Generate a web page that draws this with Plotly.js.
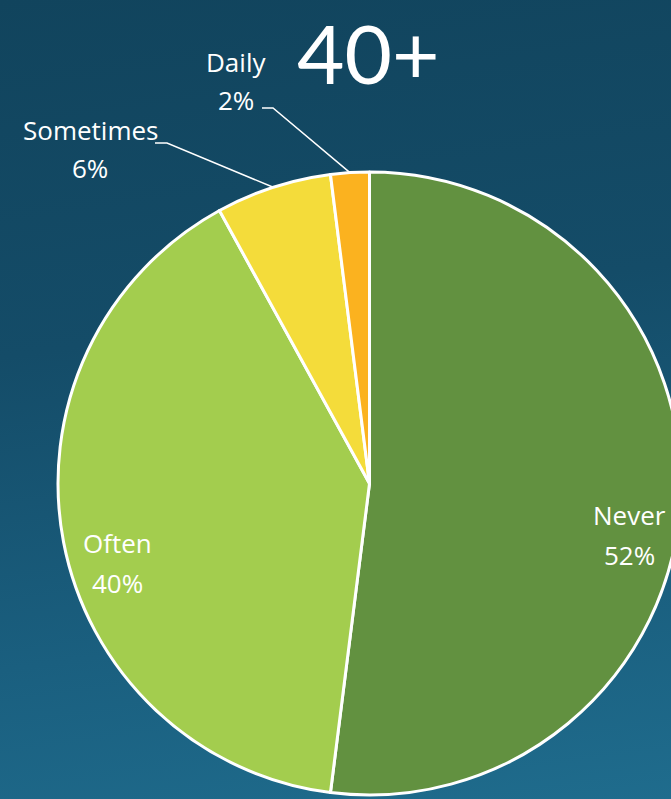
<!DOCTYPE html>
<html>
<head>
<meta charset="utf-8">
<script src="https://cdn.plot.ly/plotly-3.0.1.min.js"></script>
<style>
  html, body { margin: 0; padding: 0; width: 671px; height: 799px; overflow: hidden;
    background: linear-gradient(172deg, #11445d 0%, #144c68 40%, #1a5f7f 75%, #1f6c8d 100%); }
  #chart { width: 740px; height: 799px; }
</style>
</head>
<body>
<div id="chart"></div>
<script>
// ---- data ----
const categories = ["Never", "Often", "Sometimes", "Daily"];
const percents = [52, 40, 6, 2];
const sliceColors = ["#629140", "#a3cd4e", "#f4dc3a", "#fbb21f"];
const chartTitle = "40+";

// ---- layout geometry (pixels) ----
const W = 740, H = 799;
const cx = 369.5, cy = 483.5, R = 311.5;
const px = x => x / W;
const py = y => 1 - y / H;
const labelFont = {family: "'Open Sans', Lato, sans-serif", size: 26, color: "#ffffff"};

// label placement: pixel centre x, centre y of the name line and of the percent line
const labelPos = {
  "Never":     {x: 629, y1: 515, y2: 555, leader: false},
  "Often":     {x: 117, y1: 543, y2: 583, leader: false},
  "Sometimes": {x: 90,  y1: 130, y2: 168, leader: true, hx: [155, 167], hy: 143},
  "Daily":     {x: 236, y1: 62,  y2: 100, leader: true, hx: [262, 273], hy: 108}
};

const total = percents.reduce((a, b) => a + b, 0);
let cum = 0;
const annotations = [];
const shapes = [];
categories.forEach((c, i) => {
  const mid = (cum + percents[i] / 2) / total;
  cum += percents[i];
  const ang = mid * 2 * Math.PI; // clockwise from 12 o'clock
  const ex = cx + R * Math.sin(ang);
  const ey = cy - R * Math.cos(ang);
  const p = labelPos[c];
  annotations.push({
    xref: "paper", yref: "paper", x: px(p.x), y: py(p.y1),
    xanchor: "center", yanchor: "middle", showarrow: false,
    text: c, font: labelFont
  });
  annotations.push({
    xref: "paper", yref: "paper", x: px(p.x), y: py(p.y2),
    xanchor: "center", yanchor: "middle", showarrow: false,
    text: percents[i] + "%", font: labelFont
  });
  if (p.leader) {
    shapes.push({
      type: "path", xref: "paper", yref: "paper",
      path: `M ${px(p.hx[0])},${py(p.hy)} L ${px(p.hx[1])},${py(p.hy)} L ${px(ex)},${py(ey)}`,
      line: {color: "#ffffff", width: 1.5}
    });
  }
});

annotations.push({
  xref: "paper", yref: "paper", x: px(368), y: py(52),
  xanchor: "center", yanchor: "middle", showarrow: false,
  text: chartTitle,
  font: {family: "Lato, 'Open Sans', sans-serif", size: 82, color: "#ffffff"}
});

const trace = {
  type: "pie",
  labels: categories,
  values: percents,
  sort: false,
  direction: "clockwise",
  rotation: 0,
  textinfo: "none",
  hoverinfo: "label+percent",
  marker: {colors: sliceColors, line: {color: "#ffffff", width: 3}},
  domain: {x: [px(cx - R), px(cx + R)], y: [py(cy + R), py(cy - R)]},
  automargin: false,
  showlegend: false
};

const layout = {
  width: W, height: H,
  margin: {l: 0, r: 0, t: 0, b: 0},
  paper_bgcolor: "rgba(0,0,0,0)",
  plot_bgcolor: "rgba(0,0,0,0)",
  showlegend: false,
  annotations: annotations,
  shapes: shapes
};

Plotly.newPlot("chart", [trace], layout, {displayModeBar: false, staticPlot: true});
</script>
</body>
</html>
